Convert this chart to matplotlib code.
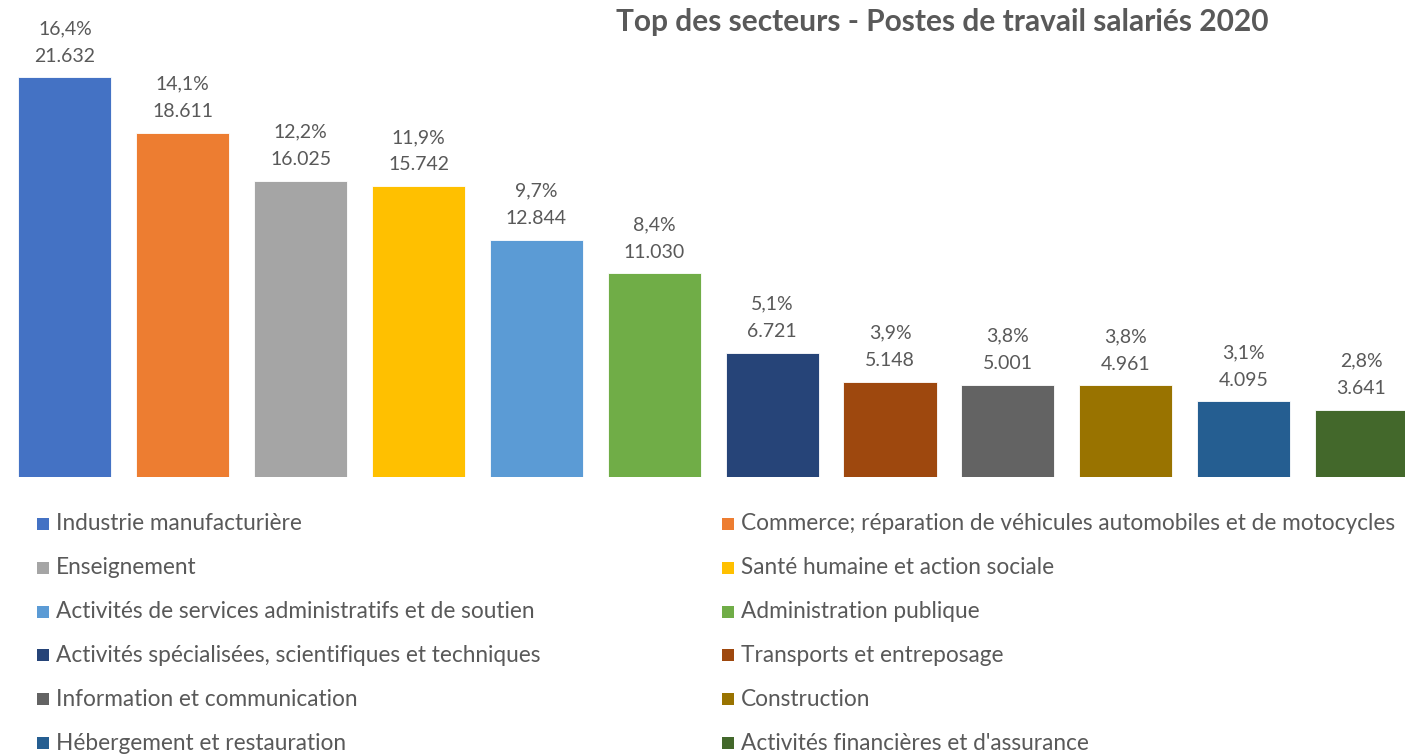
import matplotlib
matplotlib.use("Agg")
import matplotlib.pyplot as plt
from matplotlib.patches import Rectangle

plt.rcParams['font.family'] = ['Lato', 'DejaVu Sans']

# data
sectors = [
    "Industrie manufacturière",
    "Commerce; réparation de véhicules automobiles et de motocycles",
    "Enseignement",
    "Santé humaine et action sociale",
    "Activités de services administratifs et de soutien",
    "Administration publique",
    "Activités spécialisées, scientifiques et techniques",
    "Transports et entreposage",
    "Information et communication",
    "Construction",
    "Hébergement et restauration",
    "Activités financières et d'assurance",
]
postes = [21632, 18611, 16025, 15742, 12844, 11030, 6721, 5148, 5001, 4961, 4095, 3641]
parts = ["16,4%", "14,1%", "12,2%", "11,9%", "9,7%", "8,4%",
         "5,1%", "3,9%", "3,8%", "3,8%", "3,1%", "2,8%"]
colors = ["#4472C4", "#ED7D31", "#A5A5A5", "#FFC000", "#5B9BD5", "#70AD47",
          "#264478", "#9E480E", "#636363", "#997300", "#255E91", "#43682B"]

W, H = 1405, 755
txt = "#595959"

fig = plt.figure(figsize=(W / 100, H / 100), dpi=100)
# axes placed in pixels: baseline at y=477, top (max value) at y=77
ax = fig.add_axes([0, 1 - 477 / H, 1, 400 / H])
x = list(range(len(postes)))
bars = ax.bar(x, postes, width=0.79, color=colors, edgecolor="white", linewidth=0.6)
ax.set_xlim(-0.551, 11.37)
ax.set_ylim(0, max(postes))
ax.axis("off")

for b, v, p in zip(bars, postes, parts):
    lab = p + "\n" + f"{v:,}".replace(",", ".")
    ax.annotate(lab, (b.get_x() + b.get_width() / 2, v), xytext=(0, 9),
                textcoords="offset points", ha="center", va="bottom",
                fontsize=14, color=txt, linespacing=1.75, clip_on=False)

fig.text(942 / W, 1 - 22 / H, "Top des secteurs - Postes de travail salariés 2020",
         ha="center", va="center", fontsize=21.5, fontweight="bold", color=txt)

# legend, filled row by row in two columns
col_x = [37, 722]
row_y0, row_dy = 524, 43.8
sq = 12
for i, (name, c) in enumerate(zip(sectors, colors)):
    cx = col_x[i % 2]
    cy = row_y0 + (i // 2) * row_dy
    fig.patches.append(Rectangle((cx / W, 1 - (cy + sq / 2) / H), sq / W, sq / H,
                                 transform=fig.transFigure, facecolor=c, edgecolor="none"))
    fig.text((cx + sq + 7) / W, 1 - cy / H, name, ha="left", va="center",
             fontsize=16.3, color=txt)

fig.savefig("out.png", dpi=100)
